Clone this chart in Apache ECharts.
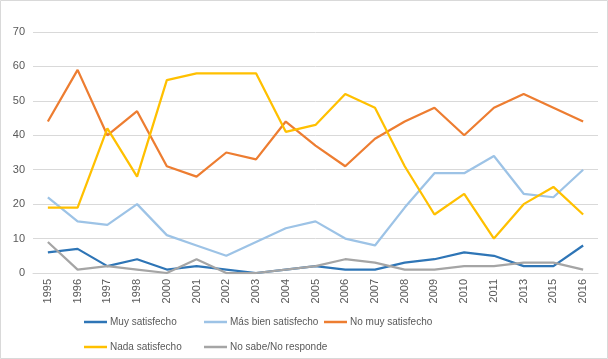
<!DOCTYPE html>
<html>
<head>
<meta charset="utf-8">
<script src="https://cdn.jsdelivr.net/npm/echarts@6/dist/echarts.min.js"></script>
<style>
  html, body { margin: 0; padding: 0; background: #fff; }
  #chart { width: 608px; height: 359px; }
</style>
</head>
<body>
<div id="chart"></div>
<script>
var years = ['1995', '1996', '1997', '1998', '2000', '2001', '2002', '2003', '2004', '2005',
             '2006', '2007', '2008', '2009', '2010', '2011', '2013', '2015', '2016'];

var muySatisfecho = [6, 7, 2, 4, 1, 2, 1, 0, 1, 2, 1, 1, 3, 4, 6, 5, 2, 2, 8];
var masBien = [22, 15, 14, 20, 11, 8, 5, 9, 13, 15, 10, 8, 19, 29, 29, 34, 23, 22, 30];
var noMuy = [44, 59, 40, 47, 31, 28, 35, 33, 44, 37, 31, 39, 44, 48, 40, 48, 52, 48, 44];
var nada = [19, 19, 42, 28, 56, 58, 58, 58, 41, 43, 52, 48, 31, 17, 23, 10, 20, 25, 17];
var noSabe = [9, 1, 2, 1, 0, 4, 0, 0, 1, 2, 4, 3, 1, 1, 2, 2, 3, 3, 1];

var nombres = ['Muy satisfecho', 'Más bien satisfecho', 'No muy satisfecho', 'Nada satisfecho', 'No sabe/No responde'];
var colores = ['#2E75B6', '#9DC3E6', '#ED7D31', '#FFC000', '#A5A5A5'];
var datos = [muySatisfecho, masBien, noMuy, nada, noSabe];

var chart = echarts.init(document.getElementById('chart'));

// posiciones de la leyenda (dos filas, tres columnas)
var posLeyenda = [[84, 317], [204, 317], [324, 317], [84, 342], [204, 342]];

var leyendas = nombres.map(function (n, i) {
    return {
        data: [{ name: n, icon: 'rect' }],
        left: posLeyenda[i][0],
        top: posLeyenda[i][1],
        padding: 0,
        icon: 'rect',
        itemWidth: 23,
        itemHeight: 2.5,
        itemGap: 0,
        itemStyle: { borderWidth: 0 },
        textStyle: { color: '#595959', fontSize: 10, fontFamily: 'Liberation Sans', padding: [0, 0, 0, -2] },
        selectedMode: false
    };
});

var series = nombres.map(function (n, i) {
    return {
        name: n,
        type: 'line',
        data: datos[i],
        symbol: 'none',
        color: colores[i],
        lineStyle: { width: 2.25, color: colores[i] },
        z: 2 + i
    };
});

chart.setOption({
    animation: false,
    graphic: [{
        type: 'rect',
        shape: { x: 0.5, y: 0.5, width: 607, height: 358 },
        style: { fill: 'none', stroke: '#D9D9D9', lineWidth: 1 },
        silent: true
    }],
    legend: leyendas,
    grid: { left: 33, right: 10, top: 32, bottom: 86 },
    xAxis: {
        type: 'category',
        data: years,
        boundaryGap: true,
        axisLine: { lineStyle: { color: '#D9D9D9' } },
        axisTick: { show: false },
        axisLabel: { rotate: 90, color: '#595959', fontSize: 11, fontFamily: 'Liberation Sans', margin: 6, interval: 0 }
    },
    yAxis: {
        type: 'value',
        min: 0,
        max: 70,
        interval: 10,
        axisLine: { show: false },
        axisTick: { show: false },
        splitLine: { lineStyle: { color: '#D9D9D9' } },
        axisLabel: { color: '#595959', fontSize: 11, fontFamily: 'Liberation Sans', margin: 8 }
    },
    series: series
});
</script>
</body>
</html>
